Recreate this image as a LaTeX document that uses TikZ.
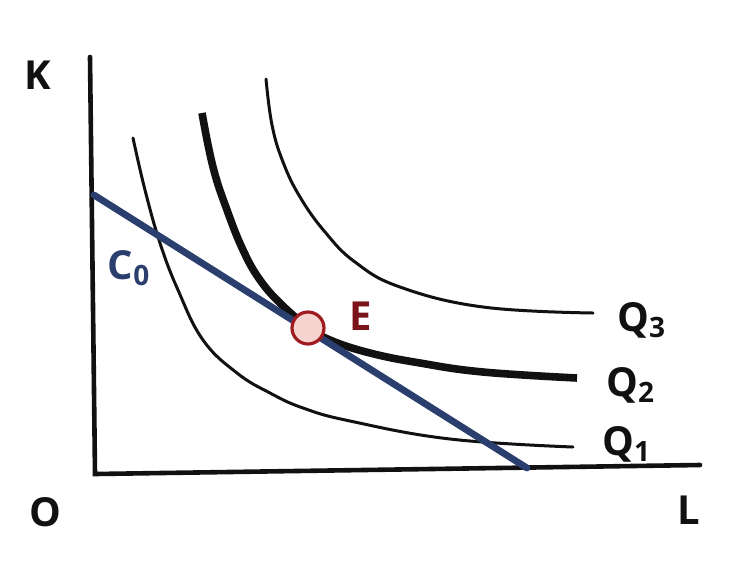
\documentclass[tikz,border=0pt]{standalone}
\usepackage{fontspec}
\setmainfont{Open Sans}
\usepackage{xcolor}
\usepackage{tikz}
\usetikzlibrary{positioning, calc}
\definecolor{axisBlack}{HTML}{111111}
\definecolor{budgetBlue}{HTML}{2B3F6E}
\definecolor{eqRed}{HTML}{9E1B22}
\definecolor{eqFill}{HTML}{F6D3CE}
\definecolor{labelRed}{HTML}{7A1418}

\begin{document}
\begin{tikzpicture}[
  x=0.5pt, y=-0.5pt,
  every node/.style={font=\fontsize{20}{24}\selectfont\bfseries},
  axisline/.style={draw=axisBlack, line width=2.3pt, line cap=round},
  isoq/.style={draw=axisBlack, line width=1.5pt, line cap=round},
  isoqbold/.style={draw=axisBlack, line width=3.8pt},
  budget/.style={draw=budgetBlue, line width=3.4pt, line cap=round},
  eqpt/.style={circle, draw=eqRed, fill=eqFill, line width=1.6pt,
               minimum size=16pt, inner sep=0pt},
  axlbl/.style={text=axisBlack, inner sep=0pt},
  qlbl/.style={axlbl, anchor=west},
]
  \useasboundingbox (0,0) rectangle (748,584);

  % ═══ Axes ═══
  \coordinate (k_top)  at (90, 57);
  \coordinate (origin) at (95, 474);
  \coordinate (l_end)  at (700, 465);
  \draw[axisline] (k_top) -- (origin) -- (l_end);

  \node[axlbl] (klbl) at (38, 75)  {K};
  \node[axlbl] (olbl) at (45, 512) {O};
  \node[axlbl] (llbl) at (689, 510) {L};

  % ═══ Isoquants (Q1 thin, Q2 thick, Q3 thin) ═══
  \draw[isoq] plot[smooth, tension=0.7] coordinates {
    (133,138) (145,190) (160,243) (178,290) (203,340) (237,373)
    (270,393) (303,408) (350,421) (450,439) (573,447)};
  \draw[isoqbold] plot[smooth, tension=0.7] coordinates {
    (202,113) (213,167) (227,210) (243,250) (260,280) (282,305)
    (308,327) (330,340) (370,353) (420,363) (483,372) (577,378)};
  \draw[isoq] plot[smooth, tension=0.7] coordinates {
    (266,79) (272,125) (283,162) (300,197) (325,232) (355,262)
    (400,287) (483,307) (593,313)};

  \node[qlbl] (q3lbl) at (617,320) {Q\textsubscript{3}};
  \node[qlbl] (q2lbl) at (606,385) {Q\textsubscript{2}};
  \node[qlbl] (q1lbl) at (602,444) {Q\textsubscript{1}};

  % ═══ Isocost line C0 ═══
  \coordinate (c_top) at (94,195);
  \coordinate (c_bot) at (527,468);
  \draw[budget] (c_top) -- (c_bot);
  \node[axlbl, text=budgetBlue] (clbl) at (129,268) {C\textsubscript{0}};

  % ═══ Equilibrium E ═══
  \coordinate (eq) at (308,328);
  \node[eqpt] (E) at (eq) {};
  \node[axlbl, text=labelRed] (elbl) at (361,316) {E};
\end{tikzpicture}
\end{document}
